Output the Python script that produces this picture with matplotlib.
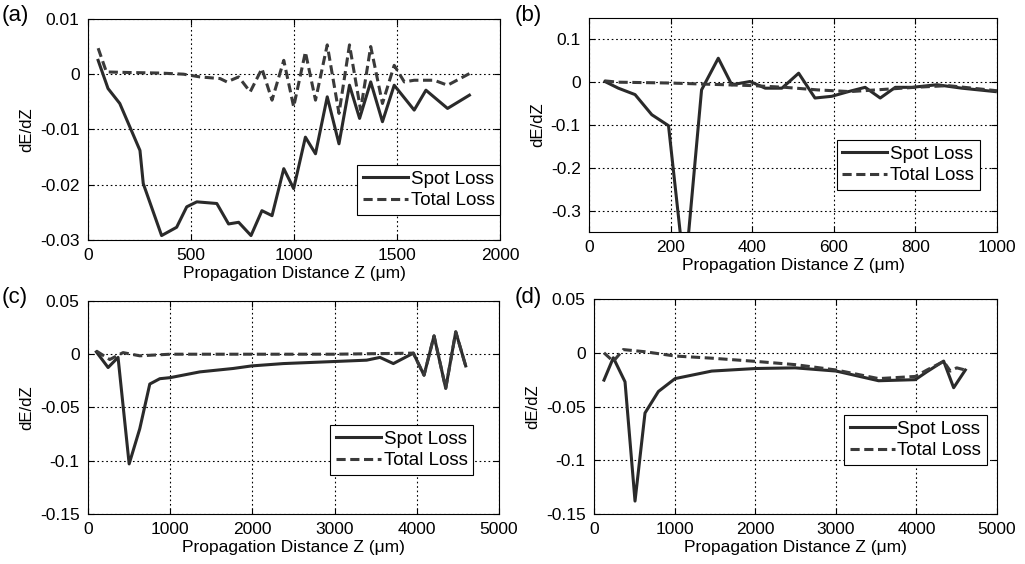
import numpy as np
import matplotlib
matplotlib.use("Agg")
import matplotlib.pyplot as plt

plt.rcParams["font.family"] = ["Liberation Sans", "DejaVu Sans"]

# ---- panel (a) ----
a_spot_x = [49, 97, 154, 252, 268, 357, 430, 479, 528, 625, 682, 731, 791, 844, 893,
            950, 998, 1055, 1104, 1161, 1218, 1269, 1318, 1372, 1429, 1486, 1583,
            1640, 1745, 1851]
a_spot_y = [0.0025, -0.0026, -0.0053, -0.0138, -0.0198, -0.0292, -0.0277, -0.024,
            -0.0231, -0.0234, -0.0271, -0.0268, -0.0292, -0.0247, -0.0256, -0.0171,
            -0.0207, -0.0114, -0.0144, -0.0041, -0.0126, -0.002, -0.008, -0.0014,
            -0.0086, -0.002, -0.0065, -0.0029, -0.0062, -0.0038]
a_total_x = [49, 89, 200, 350, 463, 544, 641, 674, 731, 787, 844, 893, 950, 998, 1055,
             1104, 1161, 1218, 1269, 1323, 1372, 1429, 1486, 1535, 1583, 1680, 1745, 1851]
a_total_y = [0.0047, 0.0004, 0.0003, 0.0002, 0.0, -0.0005, -0.0008, -0.0014, -0.0005,
             -0.0032, 0.001, -0.0047, 0.0025, -0.0059, 0.004, -0.0047, 0.0053, -0.0071,
             0.0053, -0.0065, 0.005, -0.0053, 0.0016, -0.0014, -0.0011, -0.0011,
             -0.002, 0.0001]

# ---- panel (b) ----
b_spot_x = [39, 72, 113, 154, 195, 235, 276, 317, 350, 395, 432, 473, 514, 554, 595,
            636, 677, 714, 751, 792, 853, 914, 996]
b_spot_y = [0.0016, -0.014, -0.029, -0.076, -0.1016, -0.45, -0.018, 0.056, -0.006,
            0.0016, -0.014, -0.014, 0.021, -0.037, -0.033, -0.022, -0.012, -0.037,
            -0.012, -0.012, -0.006, -0.014, -0.022]
b_total_x = [39, 72, 200, 300, 400, 480, 560, 640, 720, 800, 880, 1000]
b_total_y = [0.003, 0.0, -0.002, -0.005, -0.008, -0.012, -0.018, -0.022, -0.017,
             -0.012, -0.008, -0.02]

# ---- panel (c) ----
c_spot_x = [101, 244, 365, 500, 629, 751, 873, 1000, 1360, 1765, 1989, 2375, 2983,
            3389, 3551, 3714, 3957, 4087, 4209, 4351, 4473, 4594]
c_spot_y = [0.0022, -0.0125, -0.003, -0.103, -0.070, -0.028, -0.023, -0.022, -0.0166,
            -0.0134, -0.011, -0.0088, -0.0069, -0.0056, -0.003, -0.0088, 0.001,
            -0.0197, 0.0172, -0.032, 0.021, -0.011]
c_total_x = [101, 264, 426, 629, 1000, 2000, 3000, 3957, 4087, 4209, 4351, 4473, 4594]
c_total_y = [0.003, -0.005, 0.0015, -0.0015, 0.0, 0.0, 0.0, 0.001, -0.0197, 0.0172,
             -0.032, 0.021, -0.011]

# ---- panel (d) ----
d_spot_x = [124, 240, 385, 509, 633, 799, 1006, 1461, 2008, 2496, 3005, 3531, 3986,
            4131, 4338, 4462, 4607]
d_spot_y = [-0.0254, -0.0046, -0.027, -0.138, -0.056, -0.036, -0.024, -0.017, -0.0146,
            -0.014, -0.017, -0.026, -0.025, -0.0176, -0.0077, -0.0325, -0.016]
d_total_x = [124, 240, 364, 633, 1006, 1461, 2008, 2496, 3005, 3531, 3986, 4131, 4338,
             4420, 4500, 4607]
d_total_y = [0.0, -0.008, 0.003, 0.001, -0.003, -0.005, -0.008, -0.011, -0.016, -0.024,
             -0.022, -0.016, -0.008, -0.017, -0.014, -0.016]

panels = [
    dict(label="(a)", pos=[0.0859, 0.5745, 0.402, 0.392],
         spot=(a_spot_x, a_spot_y), total=(a_total_x, a_total_y),
         xlim=(0, 2000), xticks=[0, 500, 1000, 1500, 2000],
         ylim=(-0.03, 0.01), yticks=[-0.03, -0.02, -0.01, 0, 0.01],
         yticklabels=["-0.03", "-0.02", "-0.01", "0", "0.01"],
         leg=(1.0, 0.113), lab_xy=(0.002, 0.972)),
    dict(label="(b)", pos=[0.5746, 0.5887, 0.398, 0.3794],
         spot=(b_spot_x, b_spot_y), total=(b_total_x, b_total_y),
         xlim=(0, 1000), xticks=[0, 200, 400, 600, 800, 1000],
         ylim=(-0.35, 0.15), yticks=[-0.3, -0.2, -0.1, 0, 0.1],
         yticklabels=["-0.3", "-0.2", "-0.1", "0", "0.1"],
         leg=(0.958, 0.196), lab_xy=(0.502, 0.972)),
    dict(label="(c)", pos=[0.0859, 0.0887, 0.401, 0.3777],
         spot=(c_spot_x, c_spot_y), total=(c_total_x, c_total_y),
         xlim=(0, 5000), xticks=[0, 1000, 2000, 3000, 4000, 5000],
         ylim=(-0.15, 0.05), yticks=[-0.15, -0.1, -0.05, 0, 0.05],
         yticklabels=["-0.15", "-0.1", "-0.05", "0", "0.05"],
         leg=(0.937, 0.183), lab_xy=(0.002, 0.472)),
    dict(label="(d)", pos=[0.5795, 0.0887, 0.3932, 0.381],
         spot=(d_spot_x, d_spot_y), total=(d_total_x, d_total_y),
         xlim=(0, 5000), xticks=[0, 1000, 2000, 3000, 4000, 5000],
         ylim=(-0.15, 0.05), yticks=[-0.15, -0.1, -0.05, 0, 0.05],
         yticklabels=["-0.15", "-0.1", "-0.05", "0", "0.05"],
         leg=(0.975, 0.228), lab_xy=(0.502, 0.472)),
]

fig = plt.figure(figsize=(10.25, 5.64), dpi=100)

for p in panels:
    ax = fig.add_axes(p["pos"])
    ax.plot(*p["spot"], color="#2a2a2a", lw=2.2, label="Spot Loss")
    ax.plot(*p["total"], color="#3a3a3a", lw=2.2, ls=(0, (3, 1.5)), label="Total Loss")
    ax.set_xlim(*p["xlim"])
    ax.set_ylim(*p["ylim"])
    ax.set_xticks(p["xticks"])
    ax.set_yticks(p["yticks"])
    ax.set_yticklabels(p["yticklabels"])
    ax.grid(True, color="black", ls=(0, (1.5, 2.5)), lw=0.8)
    ax.tick_params(direction="in", top=True, right=True, labelsize=12.5, length=4, pad=6)
    for s in ax.spines.values():
        s.set_linewidth(0.8)
    ax.set_xlabel("Propagation Distance Z (\u03bcm)", fontsize=12.5, labelpad=2)
    ax.set_ylabel("dE/dZ", fontsize=12, labelpad=4)
    leg = ax.legend(loc="lower right", bbox_to_anchor=p["leg"], borderaxespad=0,
                    fancybox=False, edgecolor="black", framealpha=1, fontsize=13.5,
                    handlelength=2.4, handletextpad=0.15, borderpad=0.3,
                    labelspacing=0.25)
    leg.get_frame().set_linewidth(0.8)
    fig.text(*p["lab_xy"], p["label"], fontsize=16, va="center", ha="left")

fig.savefig("out.png", dpi=100)
